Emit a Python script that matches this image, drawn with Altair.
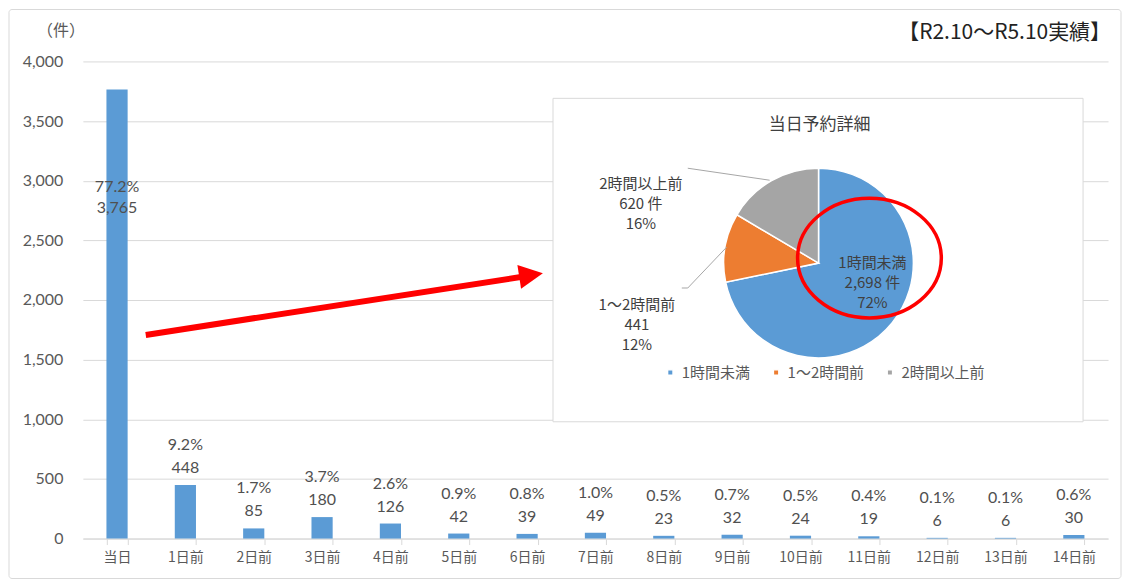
import altair as alt
import pandas as pd

# ---------------- data ----------------
categories = ["当日", "1日前", "2日前", "3日前", "4日前", "5日前", "6日前", "7日前",
              "8日前", "9日前", "10日前", "11日前", "12日前", "13日前", "14日前"]
counts = [3765, 448, 85, 180, 126, 42, 39, 49, 23, 32, 24, 19, 6, 6, 30]
shares = ["77.2%", "9.2%", "1.7%", "3.7%", "2.6%", "0.9%", "0.8%", "1.0%",
          "0.5%", "0.7%", "0.5%", "0.4%", "0.1%", "0.1%", "0.6%"]
y_ticks = [0, 500, 1000, 1500, 2000, 2500, 3000, 3500, 4000]

pie_names = ["1時間未満", "1～2時間前", "2時間以上前"]
pie_counts = [2698, 441, 620]
pie_count_labels = ["2,698 件", "441", "620 件"]
pie_shares = ["72%", "12%", "16%"]
pie_colors = ["#5B9BD5", "#ED7D31", "#A5A5A5"]

pie_title = "当日予約詳細"
unit_label = "（件）"
period_label = "【R2.10～R5.10実績】"

# ---------------- styling ----------------
JP = "Noto Sans CJK JP"
NUM = "Lato"
W, H = 1027, 478
BAR_COLOR = "#5B9BD5"
TXT = "#595959"

bars_df = pd.DataFrame({
    "cat": categories,
    "count": counts,
    "share": shares,
    "count_label": [f"{c:,}" for c in counts],
})
pie_df = pd.DataFrame({
    "name": pie_names,
    "count": pie_counts,
    "count_label": pie_count_labels,
    "share": pie_shares,
    "idx": [0, 1, 2],
})
one = pd.DataFrame({"a": [0]})

x_enc = alt.X(
    "cat:N", sort=categories, title=None,
    scale=alt.Scale(domain=categories, paddingInner=0.69, paddingOuter=0.345),
    axis=alt.Axis(labelAngle=0, labelFont=JP, labelFontSize=14, labelColor=TXT,
                  domainColor="#d9d9d9", tickColor="#d9d9d9", tickSize=6,
                  tickBand="extent", labelPadding=6, grid=False),
)
x_plain = alt.X("cat:N", sort=categories)
y_enc = alt.Y(
    "count:Q", title=None,
    scale=alt.Scale(domain=[0, 4000], nice=False),
    axis=alt.Axis(values=y_ticks, format=",d", labelFont=NUM, labelFontSize=16,
                  labelColor=TXT, labelPadding=20, domain=False, ticks=False,
                  gridColor="#d9d9d9", gridWidth=1),
)

base = alt.Chart(bars_df)
bars = base.mark_bar(color=BAR_COLOR).encode(x=x_enc, y=y_enc)

others = base.transform_filter(alt.datum.cat != "当日")
first = base.transform_filter(alt.datum.cat == "当日")
tstyle = dict(font=NUM, fontSize=16, color="#505050", baseline="middle")
val_o = others.mark_text(dy=-17, **tstyle).encode(x=x_plain, y="count:Q", text="count_label:N")
pct_o = others.mark_text(dy=-40, **tstyle).encode(x=x_plain, y="count:Q", text="share:N")
val_f = first.mark_text(dy=119, **tstyle).encode(x=x_plain, y="count:Q", text="count_label:N")
pct_f = first.mark_text(dy=98, **tstyle).encode(x=x_plain, y="count:Q", text="share:N")

# ---------------- inset pie ----------------
box = alt.Chart(one).mark_rect(fill="white", stroke="#d9d9d9", strokeWidth=1).encode(
    x=alt.value(471), x2=alt.value(1002), y=alt.value(37), y2=alt.value(361))

pie = alt.Chart(pie_df).mark_arc(radius=95, stroke="white", strokeWidth=1.5).encode(
    theta=alt.Theta("count:Q", stack=True),
    order=alt.Order("idx:Q"),
    color=alt.Color("name:N", scale=alt.Scale(domain=pie_names, range=pie_colors),
                    legend=alt.Legend(orient="none", legendX=581, legendY=304,
                                      direction="horizontal", title=None,
                                      symbolType="square", symbolSize=30,
                                      labelFont=JP, labelFontSize=15, labelColor=TXT,
                                      columnPadding=18, labelOffset=4)),
    x=alt.value(737), y=alt.value(202),
)

pie_lab_base = alt.Chart(pie_df).transform_calculate(
    lbl=alt.datum.name + "\n" + alt.datum.count_label + "\n" + alt.datum.share)
plstyle = dict(font=JP, fontSize=15, color="#404040", lineBreak="\n", lineHeight=20,
               baseline="middle", align="center")
pl1 = pie_lab_base.transform_filter(alt.datum.idx == 0).mark_text(**plstyle).encode(
    text="lbl:N", x=alt.value(791), y=alt.value(202))
pl2 = pie_lab_base.transform_filter(alt.datum.idx == 1).mark_text(**plstyle).encode(
    text="lbl:N", x=alt.value(555), y=alt.value(244))
pl3 = pie_lab_base.transform_filter(alt.datum.idx == 2).mark_text(**plstyle).encode(
    text="lbl:N", x=alt.value(559), y=alt.value(123))

lead_style = dict(color="#a6a6a6", strokeWidth=1)
lead1 = alt.Chart(one).mark_rule(**lead_style).encode(
    x=alt.value(606), y=alt.value(107), x2=alt.value(688), y2=alt.value(119))
lead2a = alt.Chart(one).mark_rule(**lead_style).encode(
    x=alt.value(600), y=alt.value(227), x2=alt.value(606), y2=alt.value(227))
lead2b = alt.Chart(one).mark_rule(**lead_style).encode(
    x=alt.value(606), y=alt.value(227), x2=alt.value(645), y2=alt.value(186))

ptitle = alt.Chart(one).mark_text(font=JP, fontSize=17, color="#404040").encode(
    text=alt.value(pie_title), x=alt.value(738), y=alt.value(64))

# ---------------- annotations ----------------
arrow_line = alt.Chart(one).mark_rule(color="#FF0000", strokeWidth=6).encode(
    x=alt.value(63), y=alt.value(274), x2=alt.value(445), y2=alt.value(215))
arrow_head = alt.Chart(one).mark_point(
    shape="M 1 0 L -1 -1 L -1 1 Z", filled=True, color="#FF0000", opacity=1,
    size=576, angle=351.2, strokeWidth=0).encode(x=alt.value(449), y=alt.value(214))

ellipse_path = ("M 1 0 C 1 0.46 0.552 0.833 0 0.833 C -0.552 0.833 -1 0.46 -1 0 "
                "C -1 -0.46 -0.552 -0.833 0 -0.833 C 0.552 -0.833 1 -0.46 1 0 Z")
ellipse = alt.Chart(one).mark_point(
    shape=ellipse_path, filled=False, color="#FF0000", opacity=1, strokeWidth=3.5,
    size=144 * 144).encode(x=alt.value(788), y=alt.value(197))

frame = alt.Chart(one).mark_rect(fillOpacity=0, stroke="#d9d9d9", strokeWidth=1,
                                 cornerRadius=3).encode(
    x=alt.value(-74), x2=alt.value(1040), y=alt.value(-52), y2=alt.value(518))

unit_txt = alt.Chart(one).mark_text(font=JP, fontSize=16, color=TXT).encode(
    text=alt.value(unit_label), x=alt.value(-22), y=alt.value(-30))
period_txt = alt.Chart(one).mark_text(font=JP, fontSize=21, color="#222222",
                                      align="right").encode(
    text=alt.value(period_label), x=alt.value(1030), y=alt.value(-28))

chart = alt.layer(
    frame, bars, val_o, pct_o, val_f, pct_f,
    box, pie, pl1, pl2, pl3, lead1, lead2a, lead2b, ptitle,
    arrow_line, arrow_head, ellipse, unit_txt, period_txt,
).properties(width=W, height=H, padding=0, background="white").configure_view(stroke=None)

chart.save("out.html", embed_options={"renderer": "svg", "actions": False})
